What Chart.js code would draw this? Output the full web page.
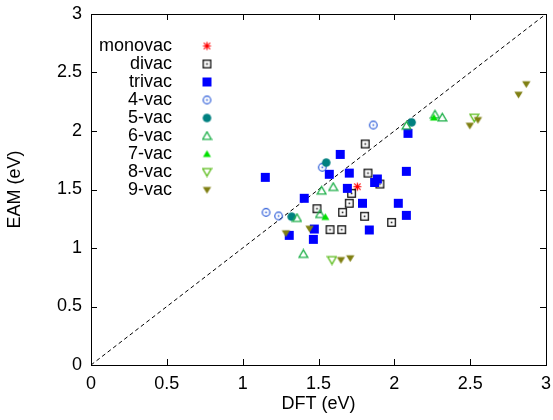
<!DOCTYPE html>
<html>
<head>
<meta charset="utf-8">
<script src="https://cdn.jsdelivr.net/npm/chart.js@4.4.1/dist/chart.umd.min.js"></script>
<style>
  html, body { margin: 0; padding: 0; background: #fff; }
  #wrap { width: 553px; height: 420px; }
</style>
</head>
<body>
<div id="wrap"><canvas id="chart" width="553" height="420"></canvas></div>
<script>
// values (DFT vs EAM formation energies, eV)
var seriesNames = ['monovac', 'divac', 'trivac', '4-vac', '5-vac', '6-vac', '7-vac', '8-vac', '9-vac'];

var monovacX = [1.756];
var monovacY = [1.524];

var divacX = [1.808, 1.826, 1.905, 1.718, 1.703, 1.490, 1.659, 1.804, 1.982, 1.576, 1.653];
var divacY = [1.889, 1.640, 1.547, 1.467, 1.382, 1.336, 1.305, 1.271, 1.219, 1.157, 1.157];

var trivacX = [2.090, 1.643, 1.571, 1.703, 2.079, 1.149, 1.888, 1.870, 1.690, 1.406, 1.790, 2.026, 2.079, 1.472, 1.835, 1.307, 1.466];
var trivacY = [1.980, 1.800, 1.630, 1.640, 1.655, 1.604, 1.590, 1.560, 1.510, 1.425, 1.382, 1.382, 1.279, 1.162, 1.154, 1.108, 1.074];

var vac4X = [1.861, 1.525, 1.154, 1.237];
var vac4Y = [2.051, 1.690, 1.305, 1.274];

var vac5X = [2.114, 1.551, 1.323];
var vac5Y = [2.074, 1.730, 1.268];

var vac6X = [2.080, 2.268, 2.316, 1.597, 1.521, 1.358, 1.510, 1.400];
var vac6Y = [2.045, 2.140, 2.115, 1.521, 1.490, 1.256, 1.290, 0.949];

var vac7X = [2.261, 1.545];
var vac7Y = [2.115, 1.265];

var vac8X = [2.527, 1.589];
var vac8Y = [2.114, 0.897];

var vac9X = [2.870, 2.819, 2.551, 2.498, 1.441, 1.285, 1.648, 1.709];
var vac9Y = [2.400, 2.310, 2.094, 2.045, 1.165, 1.126, 0.897, 0.912];

var diagX = [0, 3];
var diagY = [0, 3];

var xTickLabels = ['0', '0.5', '1', '1.5', '2', '2.5', '3'];
var yTickLabels = ['0', '0.5', '1', '1.5', '2', '2.5', '3'];

var FONT = '"Liberation Sans", Arial, sans-serif';

function pts(xs, ys) {
  return xs.map(function (x, i) { return { x: x, y: ys[i] }; });
}

// little canvases used as point styles (gnuplot-like symbols)
function marker(w, draw) {
  var c = document.createElement('canvas');
  c.width = w; c.height = w;
  var g = c.getContext('2d');
  draw(g, w / 2);
  return c;
}

var markers = [
  marker(11, function (g, m) { // asterisk
    g.strokeStyle = '#ff0000'; g.lineWidth = 1.2;
    g.beginPath();
    g.moveTo(m - 4, m); g.lineTo(m + 4, m);
    g.moveTo(m, m - 4); g.lineTo(m, m + 4);
    g.moveTo(m - 3.2, m - 3.2); g.lineTo(m + 3.2, m + 3.2);
    g.moveTo(m - 3.2, m + 3.2); g.lineTo(m + 3.2, m - 3.2);
    g.stroke();
  }),
  marker(11, function (g, m) { // open square + dot
    g.strokeStyle = '#111'; g.fillStyle = '#111'; g.lineWidth = 1.3;
    g.strokeRect(m - 3.8, m - 3.8, 7.6, 7.6);
    g.fillRect(m - 0.8, m - 0.8, 1.6, 1.6);
  }),
  marker(11, function (g, m) { // filled square
    g.fillStyle = '#0000ff';
    g.fillRect(m - 4.5, m - 4.5, 9, 9);
  }),
  marker(11, function (g, m) { // open circle + dot
    g.strokeStyle = '#2a5ad8'; g.fillStyle = '#2a5ad8'; g.lineWidth = 1.2;
    g.beginPath(); g.arc(m, m, 3.8, 0, Math.PI * 2); g.stroke();
    g.fillRect(m - 0.8, m - 0.8, 1.6, 1.6);
  }),
  marker(11, function (g, m) { // filled circle
    g.fillStyle = '#008080';
    g.beginPath(); g.arc(m, m, 4.3, 0, Math.PI * 2); g.fill();
  }),
  marker(11, function (g, m) { // open triangle up
    g.strokeStyle = '#1fb04a'; g.lineWidth = 1.3;
    g.beginPath(); g.moveTo(m, m - 4.2); g.lineTo(m + 4.4, m + 3.3); g.lineTo(m - 4.4, m + 3.3); g.closePath(); g.stroke();
  }),
  marker(11, function (g, m) { // filled triangle up
    g.fillStyle = '#00e000';
    g.beginPath(); g.moveTo(m, m - 3.8); g.lineTo(m + 4, m + 3); g.lineTo(m - 4, m + 3); g.closePath(); g.fill();
  }),
  marker(11, function (g, m) { // open triangle down
    g.strokeStyle = '#5cbc1c'; g.lineWidth = 1.3;
    g.beginPath(); g.moveTo(m, m + 4.2); g.lineTo(m + 4.4, m - 3.3); g.lineTo(m - 4.4, m - 3.3); g.closePath(); g.stroke();
  }),
  marker(11, function (g, m) { // filled triangle down
    g.fillStyle = '#7f7f12';
    g.beginPath(); g.moveTo(m, m + 3.8); g.lineTo(m + 4.2, m - 3); g.lineTo(m - 4.2, m - 3); g.closePath(); g.fill();
  })
];

var seriesData = [
  pts(monovacX, monovacY), pts(divacX, divacY), pts(trivacX, trivacY),
  pts(vac4X, vac4Y), pts(vac5X, vac5Y), pts(vac6X, vac6Y),
  pts(vac7X, vac7Y), pts(vac8X, vac8Y), pts(vac9X, vac9Y)
];

var datasets = [{
  type: 'line',
  label: 'y=x',
  data: pts(diagX, diagY),
  borderColor: '#000',
  borderWidth: 1,
  borderDash: [4, 3],
  pointRadius: 0,
  fill: false,
  order: 100
}];
seriesNames.forEach(function (name, i) {
  datasets.push({
    type: 'scatter',
    label: name,
    data: seriesData[i],
    pointStyle: markers[i],
    pointRadius: 5,
    order: 20 - i
  });
});

// frame + inward ticks on all four sides, and the gnuplot style key
var framePlugin = {
  id: 'frame',
  afterDraw: function (chart) {
    var ctx = chart.ctx, a = chart.chartArea;
    var xs = chart.scales.x, ys = chart.scales.y;
    ctx.save();
    ctx.strokeStyle = '#000';
    ctx.lineWidth = 1;
    ctx.strokeRect(Math.round(a.left) + 0.5, Math.round(a.top) + 0.5,
      Math.round(a.right - a.left), Math.round(a.bottom - a.top));
    ctx.beginPath();
    xs.ticks.forEach(function (t) {
      var p = Math.round(xs.getPixelForValue(t.value)) + 0.5;
      ctx.moveTo(p, a.bottom); ctx.lineTo(p, a.bottom - 6);
      ctx.moveTo(p, a.top); ctx.lineTo(p, a.top + 6);
    });
    ys.ticks.forEach(function (t) {
      var p = Math.round(ys.getPixelForValue(t.value)) + 0.5;
      ctx.moveTo(a.left, p); ctx.lineTo(a.left + 6, p);
      ctx.moveTo(a.right, p); ctx.lineTo(a.right - 6, p);
    });
    ctx.stroke();

    // key
    ctx.font = '18px ' + FONT;
    ctx.fillStyle = '#000';
    ctx.textAlign = 'right';
    ctx.textBaseline = 'middle';
    seriesNames.forEach(function (name, i) {
      var y = a.top + 32 + i * 18;
      ctx.fillText(name, a.left + 81, y);
      var m = markers[i];
      ctx.drawImage(m, a.left + 116 - m.width / 2, y - m.height / 2);
    });
    ctx.restore();
  }
};

new Chart(document.getElementById('chart'), {
  data: { datasets: datasets },
  options: {
    responsive: false,
    animation: false,
    events: [],
    layout: { padding: { top: 14, right: 7, left: 0, bottom: 0 } },
    plugins: {
      legend: { display: false },
      tooltip: { enabled: false }
    },
    scales: {
      x: {
        type: 'linear',
        min: 0, max: 3,
        afterFit: function (s) { s.height = 55; s.paddingLeft = 0; s.paddingRight = 0; },
        grid: { display: false, drawTicks: false },
        border: { display: false },
        ticks: {
          stepSize: 0.5,
          padding: 8,
          color: '#000',
          font: { family: FONT, size: 18 },
          maxRotation: 0,
          callback: function (v, i) { return xTickLabels[i]; }
        },
        title: {
          display: true,
          text: 'DFT (eV)',
          color: '#000',
          font: { family: FONT, size: 18 },
          padding: { top: 0, bottom: 5 }
        }
      },
      y: {
        type: 'linear',
        min: 0, max: 3,
        afterFit: function (s) { s.width = 91; s.paddingTop = 0; s.paddingBottom = 0; },
        grid: { display: false, drawTicks: false },
        border: { display: false },
        ticks: {
          stepSize: 0.5,
          padding: 9,
          color: '#000',
          font: { family: FONT, size: 18 },
          callback: function (v, i) { return yTickLabels[i]; }
        },
        title: {
          display: true,
          text: 'EAM (eV)',
          color: '#000',
          font: { family: FONT, size: 18 },
          padding: { top: 4, bottom: 0 }
        }
      }
    }
  },
  plugins: [framePlugin]
});
</script>
</body>
</html>
